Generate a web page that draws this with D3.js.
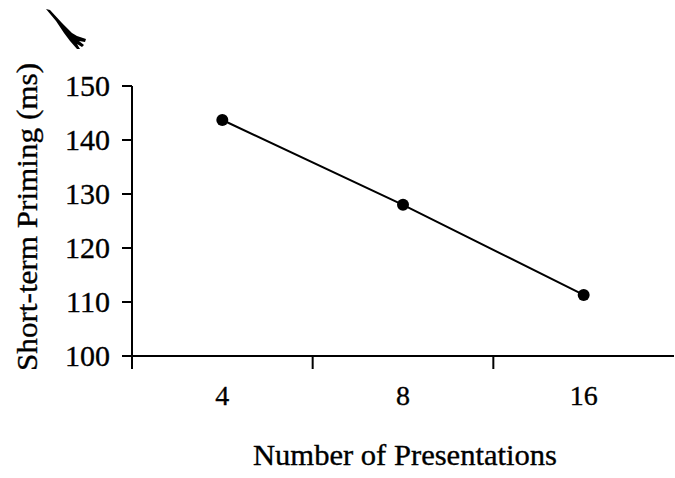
<!DOCTYPE html>
<html>
<head>
<meta charset="utf-8">
<script src="https://cdn.jsdelivr.net/npm/d3@7"></script>
<style>
  html, body { margin: 0; padding: 0; background: #fff; }
  svg { display: block; }
  text { font-family: "Liberation Serif", "Times New Roman", serif; fill: #000; stroke: #000; stroke-width: 0.35px; }
</style>
</head>
<body>
<svg id="chart" width="675" height="478"></svg>
<script>
// Number of presentations (categories) and short-term priming in ms
const presentations = ["4", "8", "16"];
const priming = [143.7, 128.0, 111.3];
const yTicks = [100, 110, 120, 130, 140, 150];

const svg = d3.select("#chart");

const x = d3.scaleBand().domain(presentations).range([132, 674]).padding(0);
const y = d3.scaleLinear().domain([100, 150]).range([356, 86]);

const ink = "#000";

// y axis: vertical line runs a little below the baseline, ticks point left
svg.append("line")
  .attr("x1", x.range()[0]).attr("x2", x.range()[0])
  .attr("y1", y(150)).attr("y2", y(100) + 13)
  .attr("stroke", ink).attr("stroke-width", 2);

svg.selectAll(".ytick").data(yTicks).join("line")
  .attr("class", "ytick")
  .attr("x1", x.range()[0] - 10).attr("x2", x.range()[0])
  .attr("y1", d => y(d)).attr("y2", d => y(d))
  .attr("stroke", ink).attr("stroke-width", 2);

svg.selectAll(".ylab").data(yTicks).join("text")
  .attr("class", "ylab")
  .attr("x", 110).attr("y", d => y(d))
  .attr("dy", "0.33em")
  .attr("text-anchor", "end")
  .attr("font-size", 30)
  .text(d => d);

// x axis across the full width, ticks between categories
svg.append("line")
  .attr("x1", x.range()[0] - 10).attr("x2", x.range()[1])
  .attr("y1", y(100)).attr("y2", y(100))
  .attr("stroke", ink).attr("stroke-width", 2);

svg.selectAll(".xtick").data(presentations.slice(1)).join("line")
  .attr("class", "xtick")
  .attr("x1", d => x(d)).attr("x2", d => x(d))
  .attr("y1", y(100)).attr("y2", y(100) + 13)
  .attr("stroke", ink).attr("stroke-width", 2);

svg.selectAll(".xlab").data(presentations).join("text")
  .attr("class", "xlab")
  .attr("x", d => x(d) + x.bandwidth() / 2)
  .attr("y", 405)
  .attr("text-anchor", "middle")
  .attr("font-size", 28)
  .text(d => d);

// axis titles
svg.append("text")
  .attr("x", 405).attr("y", 465)
  .attr("text-anchor", "middle")
  .attr("font-size", 30)
  .attr("textLength", 304)
  .attr("lengthAdjust", "spacingAndGlyphs")
  .text("Number of Presentations");

svg.append("text")
  .attr("transform", "translate(37,217) rotate(-90)")
  .attr("text-anchor", "middle")
  .attr("font-size", 30)
  .attr("textLength", 308)
  .attr("lengthAdjust", "spacingAndGlyphs")
  .text("Short-term Priming (ms)");

// data line and markers
const pts = presentations.map((p, i) => [x(p) + x.bandwidth() / 2, y(priming[i])]);

svg.append("path")
  .attr("d", d3.line()(pts))
  .attr("fill", "none")
  .attr("stroke", ink)
  .attr("stroke-width", 2);

svg.selectAll(".pt").data(pts).join("circle")
  .attr("class", "pt")
  .attr("cx", d => d[0]).attr("cy", d => d[1])
  .attr("r", 6)
  .attr("fill", ink);

// small ink stroke in the top-left corner
svg.append("path")
  .attr("d", "M46,9 L50,10 L62,23 L72,33 L77,36 L86,39 L85,42 L79,41 L84,45 L82,47 L77,44 L80,49 L77,49 L70,41 L64,33 L56,21 Z")
  .attr("fill", ink);
</script>
</body>
</html>
